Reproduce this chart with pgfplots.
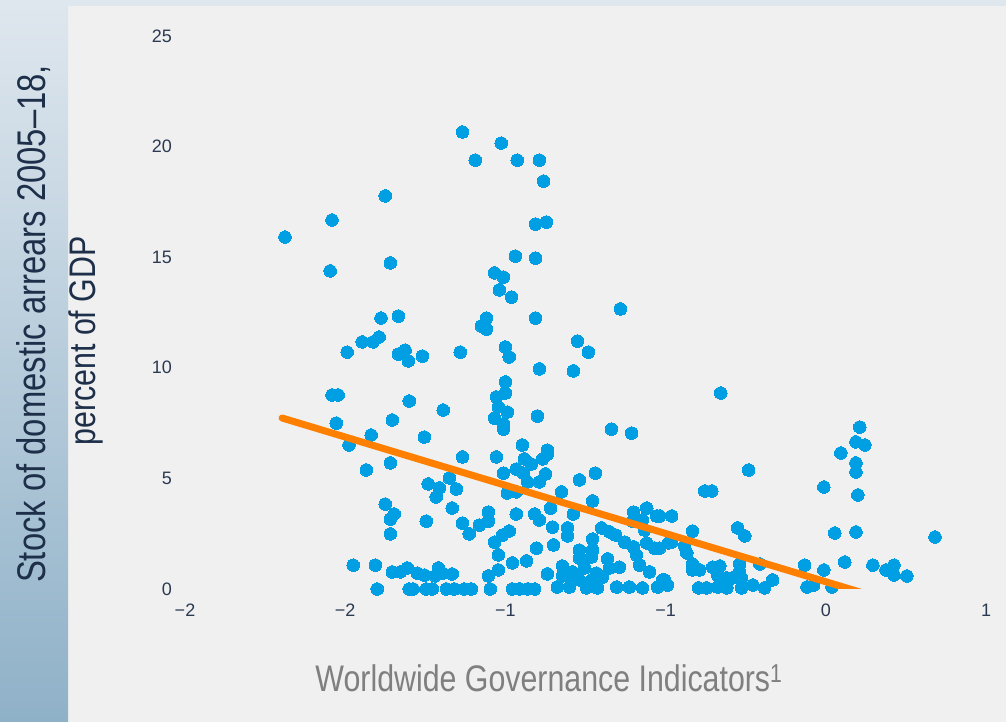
\documentclass[border=0pt]{standalone}
\usepackage{fontspec}
\setmainfont{Liberation Sans}
\newfontfamily\narrowfont[FakeStretch=0.82]{Liberation Sans}
\usepackage{pgfplots}
\pgfplotsset{compat=1.18}
\definecolor{bg}{HTML}{F0F0F0}
\definecolor{dotblue}{HTML}{009FE3}
\definecolor{lineorange}{HTML}{FF8000}
\definecolor{navy}{HTML}{1E2F4A}
\definecolor{tickc}{HTML}{2B3A52}
\definecolor{xlab}{HTML}{7F7F7F}
\definecolor{striptop}{HTML}{DFE7EE}
\definecolor{stripbot}{HTML}{8FB1C8}
\begin{document}
\begin{tikzpicture}[x=1pt,y=1pt]
\fill[bg] (0,0) rectangle (1006,722);
\shade[top color=striptop,bottom color=stripbot] (0,0) rectangle (68,722);
\fill[striptop] (68,716) rectangle (1006,722);
\node[rotate=90,anchor=base,text=navy,font=\narrowfont\fontsize{40}{42}\selectfont,inner sep=0pt] at (45,398) {Stock of domestic arrears 2005–18,};
\node[rotate=90,anchor=base,text=navy,font=\narrowfont\fontsize{37}{40}\selectfont,inner sep=0pt] at (95,381) {percent of GDP};
\node[anchor=base,text=xlab,font=\narrowfont\fontsize{37}{40}\selectfont,inner sep=0pt] at (549,30) {Worldwide Governance Indicators\textsuperscript{1}};
\begin{axis}[
  at={(185pt,133pt)}, anchor=south west, scale only axis,
  width=801pt, height=553pt,
  xmin=-2, xmax=0.5, ymin=0, ymax=25,
  axis line style={draw=none}, tick style={draw=none}, major tick length=0pt,
  xtick={-2,-1.5,-1,-0.5,0,0.5}, xticklabels={−2,−2,−1,−1,0,1},
  ytick={0,5,10,15,20,25}, yticklabels={0,5,10,15,20,25},
  ticklabel style={font=\fontsize{18}{18}\selectfont, text=tickc, inner sep=0pt},
  xticklabel style={anchor=north, yshift=-15pt},
  yticklabel style={anchor=east, xshift=-13pt},
  clip mode=individual,
]
\addplot[only marks, color=dotblue, mark=*, mark size=6.3pt, mark options={fill=dotblue, draw=dotblue, line width=0pt}] coordinates {
(-1.688,15.91) (-1.547,14.38) (-1.541,16.68) (-1.375,17.77) (-1.359,14.74)
(-1.134,20.66) (-1.094,19.39) (-1.013,20.16) (-0.963,19.39) (-0.894,19.39)
(-0.881,18.44) (-0.906,16.50) (-0.872,16.59) (-0.969,15.05) (-0.906,14.96)
(-1.034,14.29) (-1.006,14.10) (-1.019,13.52) (-0.981,13.20)
(-1.388,12.25) (-1.334,12.34) (-1.447,11.17) (-1.413,11.17) (-1.394,11.39)
(-1.494,10.71) (-1.334,10.62) (-1.313,10.80) (-1.303,10.31) (-1.259,10.53)
(-1.141,10.71) (-1.541,8.77) (-1.522,8.77) (-1.300,8.50) (-1.194,8.09)
(-1.528,7.50) (-1.353,7.64) (-1.419,6.96) (-1.488,6.51) (-1.253,6.87)
(-1.059,12.25) (-1.075,11.89) (-1.059,11.75) (-0.906,12.25) (-0.641,12.66)
(-1.000,10.94) (-0.988,10.49) (-0.775,11.21) (-0.741,10.71) (-0.894,9.95)
(-0.788,9.86) (-1.000,9.36) (-1.000,8.86) (-1.028,8.68) (-1.022,8.23)
(-0.994,8.00) (-1.034,7.73) (-1.006,7.46) (-1.006,7.23) (-0.900,7.82)
(-0.669,7.23) (-0.606,7.05) (-0.947,6.51) (-0.869,6.28) (-0.328,8.86)
(0.106,7.32) (0.094,6.65) (0.122,6.51) (0.047,6.15) (0.094,5.70)
(0.094,5.29) (-0.006,4.61) (0.100,4.25) (0.028,2.53) (0.094,2.58)
(0.341,2.35) (-0.066,1.08) (-0.006,0.86) (0.059,1.22) (0.147,1.08)
(0.188,0.86) (0.213,1.08) (0.213,0.63) (0.253,0.59) (-0.059,0.09)
(-0.038,0.18) (0.019,0.09)
(-1.434,5.38) (-1.359,5.70) (-1.375,3.84) (-1.347,3.39) (-1.359,3.16)
(-1.359,2.49) (-1.475,1.08) (-1.406,1.08) (-1.353,0.77) (-1.328,0.77)
(-1.306,0.95) (-1.400,0) (-1.300,0)
(-1.134,5.97) (-1.028,5.97) (-0.941,5.88) (-0.919,5.65) (-0.966,5.42)
(-1.006,5.24) (-0.944,5.24) (-0.931,4.84) (-0.894,4.84) (-1.175,5.02)
(-1.241,4.75) (-1.206,4.57) (-1.153,4.52) (-1.216,4.16) (-0.994,4.34)
(-0.966,4.39) (-1.166,3.66) (-1.247,3.07) (-1.053,3.48) (-0.966,3.39)
(-0.909,3.39) (-1.134,2.98) (-1.081,2.89) (-1.053,3.07) (-1.113,2.49)
(-0.988,2.62) (-1.009,2.44) (-1.034,2.12) (-0.903,1.85) (-1.022,1.54)
(-0.978,1.18) (-0.934,1.27) (-1.022,0.86) (-1.053,0.59) (-1.275,0.72)
(-1.253,0.63) (-1.209,0.95) (-1.219,0.59) (-1.197,0.72) (-1.166,0.68)
(-1.288,0) (-1.247,0) (-1.228,0) (-1.184,0) (-1.159,0) (-1.128,0)
(-1.106,0) (-1.047,0) (-0.978,0) (-0.956,0) (-0.931,0) (-0.909,0)
(-0.869,6.10) (-0.884,5.88) (-0.719,5.24) (-0.769,4.93) (-0.875,5.20)
(-0.825,4.39) (-0.728,3.98) (-0.859,3.66) (-0.788,3.39) (-0.894,3.12)
(-0.853,2.80) (-0.806,2.76) (-0.806,2.40) (-0.700,2.76) (-0.675,2.58)
(-0.656,2.44) (-0.728,2.26) (-0.600,3.48) (-0.559,3.66) (-0.528,3.30)
(-0.572,3.12) (-0.603,3.07) (-0.566,2.67) (-0.628,2.12) (-0.600,1.90)
(-0.559,2.08) (-0.534,1.85) (-0.491,2.08) (-0.850,1.99) (-0.769,1.76)
(-0.728,1.76) (-0.769,1.40) (-0.731,1.45) (-0.681,1.36) (-0.591,1.54)
(-0.581,1.08) (-0.550,0.77) (-0.644,0.99) (-0.822,1.04) (-0.791,0.77)
(-0.753,0.95) (-0.716,0.72) (-0.675,0.95) (-0.869,0.68) (-0.822,0.59)
(-0.800,0.54) (-0.769,0.41) (-0.731,0.41) (-0.697,0.54)
(-0.838,0.09) (-0.800,0.09) (-0.747,0.05) (-0.713,0.05) (-0.653,0.09)
(-0.613,0.09) (-0.572,0.05) (-0.525,0.09) (-0.509,0.41)
(-0.241,5.38) (-0.378,4.43) (-0.356,4.43) (-0.519,3.30) (-0.481,3.30)
(-0.416,2.62) (-0.275,2.76) (-0.253,2.40) (-0.481,2.12) (-0.519,1.85)
(-0.441,1.94) (-0.434,1.63) (-0.416,1.13) (-0.416,0.86) (-0.394,0.86)
(-0.353,0.99) (-0.331,1.04) (-0.269,1.13) (-0.206,1.13) (-0.269,0.77)
(-0.338,0.63) (-0.309,0.50) (-0.291,0.50) (-0.263,0.50) (-0.166,0.41)
(-0.503,0.41) (-0.494,0.18)
(-0.397,0.05) (-0.372,0.05) (-0.338,0.09) (-0.309,0.05) (-0.263,0.05)
(-0.228,0.18) (-0.191,0.05)
};
\addplot[lineorange, line width=7pt, line cap=round] coordinates {(-1.697,7.73) (0.25,-0.763)};
\end{axis}
\pgfresetboundingbox
\useasboundingbox (0,0) rectangle (1006,722);
\end{tikzpicture}
\end{document}
